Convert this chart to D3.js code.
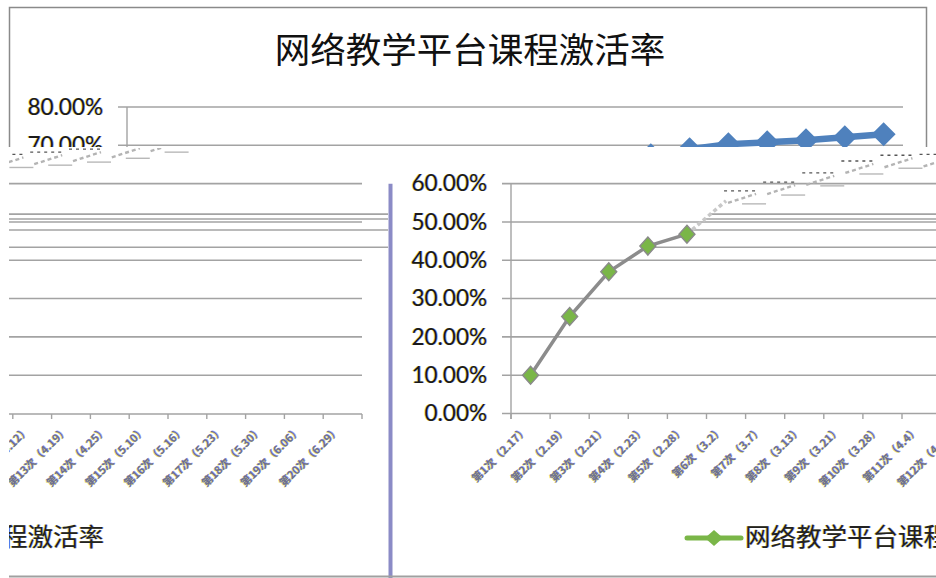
<!DOCTYPE html>
<html><head><meta charset="utf-8">
<script src="https://cdn.jsdelivr.net/npm/d3@7"></script>
<style>
html,body{margin:0;padding:0;background:#fff;}
svg{display:block;}
.cjk{font-family:"Noto Sans CJK SC",sans-serif;}
.num{font-family:Lato,"Liberation Sans",sans-serif;}
.fr{text-shadow:-0.7px 0 rgba(215,215,0,0.6),0.7px 0 rgba(90,90,255,0.55);}
</style></head><body>
<svg id="c" width="936" height="578"></svg>
<script>
// ---- data ----
const chartTitle = "网络教学平台课程激活率";
const seriesName = "网络教学平台课程激活率";
const sessions = ["第1次","第2次","第3次","第4次","第5次","第6次","第7次","第8次","第9次","第10次",
                  "第11次","第12次","第13次","第14次","第15次","第16次","第17次","第18次","第19次","第20次"];
const dates = ["2.17","2.19","2.21","2.23","2.28","3.2","3.7","3.13","3.21","3.28",
               "4.4","4.12","4.19","4.25","5.10","5.16","5.23","5.30","6.06","6.29"];
const rates = [10.0,25.3,37.0,43.7,46.8,55.5,57.8,60.2,63.3,64.8,
               65.0,65.6,66.4,67.4,69.0,70.3,70.8,71.3,72.1,72.9];
const yTicks = [0,10,20,30,40,50,60,70,80];
const ghostRuleValues = [52.05,50.75,47.9,43.4];

const cats = sessions.map((s,i)=>s+"（"+dates[i]+"）");
const data = cats.map((c,i)=>({c, v:rates[i], i}));

const W=936,H=578;
const svg=d3.select("#c");
const fmt=d=>d.toFixed(2)+"%";
const y=d3.scaleLinear().domain([0,80]).range([413.5,107]);
const xTop=d3.scaleBand().domain(cats).range([127,903]);
const xRight=d3.scaleBand().domain(cats).range([511,511+39.1*20]);
const xLeft=d3.scaleBand().domain(cats).range([127-541,903-541]);
const cx=(sc,c)=>sc(c)+sc.bandwidth()/2;

const defs=svg.append("defs");
defs.append("clipPath").attr("id","clipTop").append("rect").attr("x",0).attr("y",0).attr("width",W).attr("height",147);
defs.append("clipPath").attr("id","clipLeft").append("rect").attr("x",9).attr("y",148).attr("width",379).attr("height",H-148);
defs.append("clipPath").attr("id","clipRight").append("rect").attr("x",393).attr("y",148).attr("width",W-393).attr("height",H-148);

const diamond=(hx,hy)=>`M0,${-hy}L${hx},0L0,${hy}L${-hx},0Z`;
const GRID="#a3a3a3";

// ================= TOP PANEL =================
const topG=svg.append("g").attr("clip-path","url(#clipTop)");
topG.append("rect").attr("x",9.5).attr("y",7.5).attr("width",917).attr("height",300)
  .attr("fill","none").attr("stroke","#8a8a8a").attr("stroke-width",1.5);
topG.append("text").attr("class","cjk").attr("x",470).attr("y",63).attr("text-anchor","middle")
  .attr("font-size",35.5).attr("fill","#111").text(chartTitle);
yTicks.forEach(t=>{
  topG.append("line").attr("x1",118).attr("x2",903).attr("y1",y(t)).attr("y2",y(t))
    .attr("stroke",GRID).attr("stroke-width",1.6);
});
yTicks.filter(t=>t>=70).forEach(t=>{
  topG.append("text").attr("class","num fr").attr("x",103).attr("y",y(t)+7.8).attr("text-anchor","end")
    .attr("font-size",22.5).attr("fill","#1a1a1a").text(fmt(t));
});
topG.append("line").attr("x1",127).attr("x2",127).attr("y1",y(80)).attr("y2",420).attr("stroke",GRID).attr("stroke-width",1.4);
topG.append("path").datum(data).attr("fill","none").attr("stroke","#4f81bd").attr("stroke-width",6.5)
  .attr("stroke-linejoin","round")
  .attr("d",d3.line().x(d=>cx(xTop,d.c)).y(d=>y(d.v)));
topG.selectAll(".bd").data(data).join("path").attr("fill","#4f81bd")
  .attr("transform",d=>`translate(${cx(xTop,d.c)},${y(d.v)})`).attr("d",diamond(12,12));

// x label helper: rotated -45°, ending just under the category centre
function xLabels(g,sc,list){
  const lg=g.selectAll(null).data(list).join("g")
    .attr("transform",d=>`translate(${cx(sc,d.c)-2},431) rotate(-45)`);
  lg.append("text").attr("class","cjk fr").attr("x",0).attr("y",0)
    .attr("font-size",11).attr("font-weight",700).attr("fill","#6d7090")
    .attr("text-anchor","end").text(d=>d.c);
}

// ================= LEFT PANEL =================
const leftG=svg.append("g").attr("clip-path","url(#clipLeft)");
yTicks.filter(t=>t>0).forEach(t=>{
  leftG.append("line").attr("x1",9).attr("x2",362).attr("y1",y(t)).attr("y2",y(t))
    .attr("stroke",GRID).attr("stroke-width",1.6);
});
ghostRuleValues.forEach(v=>{
  leftG.append("line").attr("x1",9).attr("x2",388).attr("y1",y(v)).attr("y2",y(v))
    .attr("stroke",GRID).attr("stroke-width",1.6);
});
leftG.append("line").attr("x1",9).attr("x2",362).attr("y1",414).attr("y2",414).attr("stroke",GRID).attr("stroke-width",1.6);
cats.forEach(c=>{
  leftG.append("line").attr("x1",xLeft(c)).attr("x2",xLeft(c)).attr("y1",414).attr("y2",419).attr("stroke",GRID).attr("stroke-width",1.4);
});
leftG.append("line").attr("x1",362).attr("x2",362).attr("y1",414).attr("y2",419).attr("stroke",GRID).attr("stroke-width",1.4);
xLabels(leftG,xLeft,data.filter(d=>cx(xLeft,d.c)>20));
function ghost(g,sc,list){
  list.forEach(d=>{
    const X=cx(sc,d.c),Y=y(d.v);
    g.append("line").attr("x1",X-2).attr("x2",X+30).attr("y1",Y-10).attr("y2",Y-10)
      .attr("stroke","#555").attr("stroke-width",1.3).attr("stroke-dasharray","3,4");
    g.append("line").attr("x1",X+2).attr("x2",X+30).attr("y1",Y+2).attr("y2",Y-7)
      .attr("stroke","#b4b4b4").attr("stroke-width",2.4).attr("stroke-dasharray","4,3");
    g.append("line").attr("x1",X+16).attr("x2",X+40).attr("y1",Y+3).attr("y2",Y+3)
      .attr("stroke","#b8b8b8").attr("stroke-width",1.4);
  });
}
ghost(leftG,xLeft,data.slice(10,15));
leftG.append("text").attr("class","cjk fr").attr("x",104).attr("y",546).attr("text-anchor","end")
  .attr("font-size",25.5).attr("fill","#222").text(seriesName);

// ================= RIGHT PANEL =================
const rightG=svg.append("g").attr("clip-path","url(#clipRight)");
yTicks.filter(t=>t<=60).forEach(t=>{
  rightG.append("line").attr("x1",502).attr("x2",W).attr("y1",y(t)).attr("y2",y(t))
    .attr("stroke",GRID).attr("stroke-width",1.6);
  rightG.append("text").attr("class","num fr").attr("x",487).attr("y",y(t)+7.8).attr("text-anchor","end")
    .attr("font-size",22.5).attr("fill","#1a1a1a").text(fmt(t));
});
const pts=data.map(d=>[cx(xRight,d.c),y(d.v)]);
ghostRuleValues.forEach(v=>{
  const Y=y(v); let X=W;
  for(let k=0;k<pts.length-1;k++){
    const [x0,y0]=pts[k],[x1,y1]=pts[k+1];
    if((y0-Y)*(y1-Y)<=0 && y0!==y1){X=x0+(Y-y0)/(y1-y0)*(x1-x0);break;}
  }
  rightG.append("line").attr("x1",X).attr("x2",W).attr("y1",Y).attr("y2",Y)
    .attr("stroke",GRID).attr("stroke-width",1.6);
});
rightG.append("line").attr("x1",511).attr("x2",511).attr("y1",y(60)).attr("y2",419).attr("stroke",GRID).attr("stroke-width",1.4);
cats.forEach(c=>{
  rightG.append("line").attr("x1",xRight(c)).attr("x2",xRight(c)).attr("y1",414).attr("y2",419).attr("stroke",GRID).attr("stroke-width",1.4);
});
xLabels(rightG,xRight,data.filter(d=>cx(xRight,d.c)<990));
const solid=data.slice(0,5);
rightG.append("path").datum(solid).attr("fill","none").attr("stroke","#8c8c8c").attr("stroke-width",3.5)
  .attr("d",d3.line().x(d=>cx(xRight,d.c)).y(d=>y(d.v)));
rightG.append("path").datum(data.slice(4,6)).attr("fill","none").attr("stroke","#c8c8c8").attr("stroke-width",3.5)
  .attr("stroke-dasharray","4,3").attr("d",d3.line().x(d=>cx(xRight,d.c)).y(d=>y(d.v)));
ghost(rightG,xRight,data.slice(5,12));
rightG.selectAll(".gd").data(solid).join("path").attr("fill","#7ab648").attr("stroke","#8a8a8a").attr("stroke-width",1.4)
  .attr("transform",d=>`translate(${cx(xRight,d.c)},${y(d.v)})`).attr("d",diamond(8,9));
rightG.append("line").attr("x1",687).attr("x2",741).attr("y1",538).attr("y2",538)
  .attr("stroke","#7ab648").attr("stroke-width",5).attr("stroke-linecap","round");
rightG.append("path").attr("transform","translate(714,538)").attr("d",diamond(9,8)).attr("fill","#7ab648");
rightG.append("text").attr("class","cjk fr").attr("x",745).attr("y",546)
  .attr("font-size",25.5).attr("fill","#222").text(seriesName);

// ================= frame pieces =================
svg.append("line").attr("x1",390.5).attr("x2",390.5).attr("y1",y(60)).attr("y2",H)
  .attr("stroke","#8b8bc6").attr("stroke-width",4);
svg.append("line").attr("x1",9).attr("x2",W).attr("y1",576.5).attr("y2",576.5)
  .attr("stroke","#a0a0a0").attr("stroke-width",2);
</script>
</body></html>
